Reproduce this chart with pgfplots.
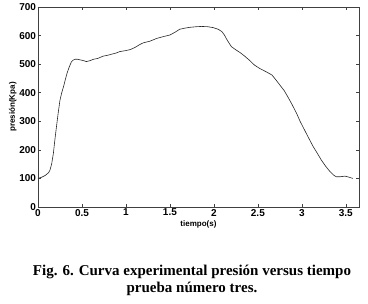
\documentclass[border=0pt]{standalone}
\usepackage{pgfplots}
\pgfplotsset{compat=1.18}
\usepackage{fontspec}
\setmainfont{Liberation Serif}
\setsansfont{Liberation Sans}
\begin{document}
\begin{tikzpicture}[x=1pt,y=1pt]
\useasboundingbox (-38,-97) rectangle (330,207);
\begin{axis}[
  at={(0,0)}, anchor=origin,
  scale only axis, width=321pt, height=200pt,
  xmin=0, xmax=3.65, ymin=0, ymax=700,
  xtick={0,0.5,1,1.5,2,2.5,3,3.5},
  xticklabels={0,0.5,1,1.5,2,2.5,3,3.5},
  ytick={0,100,200,300,400,500,600,700},
  tick align=inside,
  major tick length=3pt,
  axis line style={draw=black!75, line width=0.7pt},
  every tick/.style={black!75, line width=0.6pt},
  tick label style={font=\sffamily\bfseries\fontsize{10}{10}\selectfont},
  /pgf/number format/assume math mode=true,
  xticklabel style={yshift=1.5pt},
  yticklabel style={xshift=1.5pt},
  xlabel={tiempo(s)},
  ylabel={presión(Kpa)},
  label style={font=\sffamily\bfseries\fontsize{8}{8}\selectfont},
  xlabel style={yshift=2pt},
  ylabel style={yshift=-4pt},
]
\addplot[black!85, line width=0.6pt] coordinates {
(0,100) (0.04,104) (0.08,110) (0.12,120) (0.136,129) (0.155,150) (0.175,188) (0.19,230) (0.21,281) (0.23,330) (0.25,374) (0.27,400) (0.29,421) (0.31,445) (0.33,468) (0.355,490) (0.38,508) (0.40,514) (0.42,517) (0.45,517) (0.48,515) (0.52,512) (0.55,509) (0.59,512) (0.63,517) (0.68,520) (0.74,528) (0.79,531) (0.84,535) (0.88,538) (0.93,544) (0.99,547) (1.05,551) (1.10,558) (1.16,569) (1.2,575) (1.27,580) (1.35,590) (1.42,596) (1.5,602) (1.56,612) (1.61,622) (1.67,626) (1.73,629) (1.80,631) (1.86,632) (1.93,631) (1.99,628) (2.05,622) (2.09,614) (2.12,602) (2.14,590) (2.17,575) (2.20,561) (2.25,550) (2.30,540) (2.35,528) (2.41,512) (2.46,497) (2.52,485) (2.59,474) (2.66,462) (2.70,447) (2.75,427) (2.80,407) (2.84,386) (2.89,358) (2.94,328) (2.98,300) (3.03,270) (3.08,240) (3.13,211) (3.18,186) (3.22,165) (3.27,143) (3.32,124) (3.36,112) (3.39,106) (3.44,106) (3.49,108) (3.53,105) (3.56,102) (3.58,100)
};
\end{axis}
\node[font=\rmfamily\bfseries\fontsize{15}{17}\selectfont, align=center] at (154,-73.5) {Fig. 6. Curva experimental presión versus tiempo\\prueba número tres.};
\end{tikzpicture}
\end{document}
